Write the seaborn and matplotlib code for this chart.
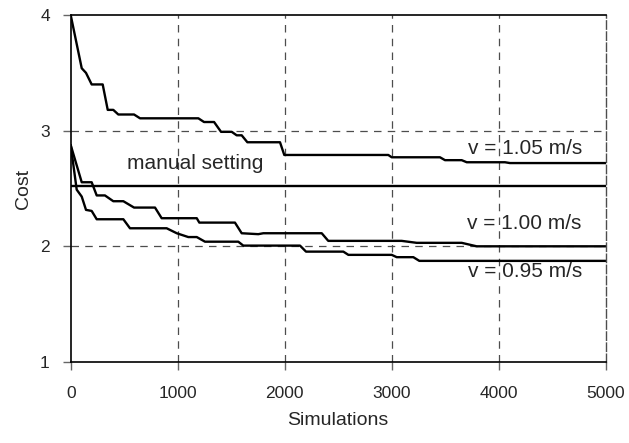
import matplotlib
matplotlib.use("Agg")
import matplotlib.pyplot as plt
import numpy as np
import pandas as pd
import seaborn as sns

# cost vs number of simulations
sims_105 = [0, 103, 143, 196, 299, 346, 398, 445, 592, 648, 1193, 1246, 1340, 1405, 1505,
            1551, 1598, 1651, 1956, 1996, 2968, 3000, 3451, 3498, 3654, 3701, 4058, 4105, 5000]
cost_105 = [4.0, 3.54, 3.50, 3.40, 3.40, 3.18, 3.18, 3.14, 3.14, 3.107, 3.107, 3.075, 3.075, 2.99, 2.99,
            2.96, 2.96, 2.90, 2.90, 2.79, 2.79, 2.77, 2.77, 2.745, 2.745, 2.727, 2.727, 2.72, 2.72]

sims_100 = [0, 103, 196, 243, 320, 398, 492, 592, 788, 850, 1178, 1202, 1535, 1598, 1753,
            1800, 2346, 2407, 3093, 3234, 3654, 3794, 5000]
cost_100 = [2.876, 2.554, 2.554, 2.44, 2.44, 2.39, 2.39, 2.335, 2.335, 2.243, 2.243, 2.205, 2.205, 2.113, 2.105,
            2.113, 2.113, 2.047, 2.047, 2.03, 2.03, 2.0, 2.0]

sims_095 = [0, 56, 103, 143, 196, 243, 492, 554, 897, 991, 1099, 1178, 1255, 1566, 1613, 2143,
            2199, 2548, 2595, 3000, 3047, 3202, 3258, 5000]
cost_095 = [2.876, 2.49, 2.43, 2.315, 2.306, 2.234, 2.234, 2.156, 2.156, 2.113, 2.08, 2.08, 2.04, 2.04, 2.006, 2.006,
            1.954, 1.954, 1.926, 1.926, 1.906, 1.906, 1.874, 1.874]

sims_manual = [0, 5000]
cost_manual = [2.52, 2.52]

x_ticks = [0, 1000, 2000, 3000, 4000, 5000]
y_ticks = [1, 2, 3, 4]

sns.set_style("white")
plt.rcParams['font.family'] = ['Liberation Sans', 'DejaVu Sans']

frames = []
for name, xs, ys in [("1.05", sims_105, cost_105), ("1.00", sims_100, cost_100),
                     ("0.95", sims_095, cost_095), ("manual", sims_manual, cost_manual)]:
    frames.append(pd.DataFrame({"sims": xs, "cost": ys, "series": name}))
df = pd.concat(frames, ignore_index=True)

fig = plt.figure(figsize=(6.29, 4.43), dpi=100)
ax = fig.add_axes([0.1124, 0.183, 0.8506, 0.783])

sns.lineplot(data=df, x="sims", y="cost", hue="series", palette=["black"] * 4,
             estimator=None, sort=False, legend=False, linewidth=1.7, ax=ax)

ax.set_xlim(0, 5000)
ax.set_ylim(1, 4)
ax.set_xticks(x_ticks)
ax.set_yticks(y_ticks)
ax.set_xticklabels([str(v) for v in x_ticks], fontsize=12.5)
ax.set_yticklabels([str(v) for v in y_ticks], fontsize=12.5)
ax.tick_params(axis="both", direction="out", length=6, width=1, color="0.4")
ax.tick_params(axis="x", pad=11)
ax.tick_params(axis="y", pad=9)
ax.xaxis.set_ticks_position("bottom")
ax.yaxis.set_ticks_position("left")

for v in x_ticks[1:-1]:
    ax.axvline(v, color="0.3", linestyle=(0, (6, 5)), linewidth=0.9, zorder=0)
for v in [2, 3]:
    ax.axhline(v, color="0.3", linestyle=(0, (6, 5)), linewidth=0.9, zorder=0)

for side in ["left", "bottom", "top"]:
    ax.spines[side].set_color("black")
    ax.spines[side].set_linewidth(1.2)
ax.spines["right"].set_color("0.3")
ax.spines["right"].set_linestyle((0, (6, 2)))
ax.spines["right"].set_linewidth(1.0)

ax.set_xlabel("Simulations", fontsize=14, labelpad=8)
ax.set_ylabel("Cost", fontsize=14, labelpad=6)

ax.text(523, 2.72, "manual setting", fontsize=15, ha="left", va="center")
ax.text(4776, 2.848, "v = 1.05 m/s", fontsize=15, ha="right", va="center")
ax.text(4776, 2.20, "v = 1.00 m/s", fontsize=15, ha="right", va="center")
ax.text(4776, 1.78, "v = 0.95 m/s", fontsize=15, ha="right", va="center")

fig.savefig("out.png", dpi=100)
